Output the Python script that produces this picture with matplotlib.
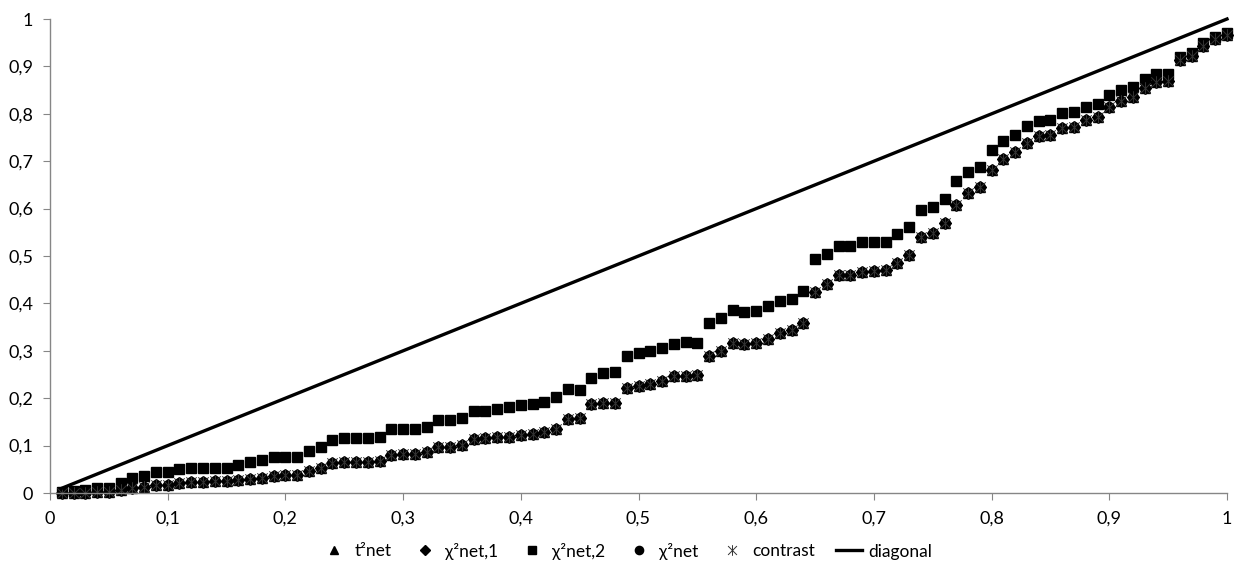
import matplotlib
matplotlib.use('Agg')
import matplotlib.pyplot as plt
from matplotlib.path import Path
import numpy as np

plt.rcParams['font.family'] = ['Lato', 'DejaVu Sans']

# probabilidade nominal (eixo x), 0.01 .. 1.00
x = np.round(np.arange(1, 101) / 100, 2)

# chi2net,2 (quadrados)
chi2net_2 = [0.002, 0.004, 0.006, 0.010, 0.010, 0.022, 0.031, 0.035, 0.045, 0.045,
             0.051, 0.052, 0.052, 0.053, 0.053, 0.060, 0.065, 0.070, 0.077, 0.075,
             0.077, 0.089, 0.096, 0.112, 0.115, 0.117, 0.117, 0.119, 0.134, 0.134,
             0.136, 0.140, 0.153, 0.154, 0.158, 0.173, 0.174, 0.177, 0.181, 0.185,
             0.188, 0.191, 0.202, 0.219, 0.217, 0.242, 0.253, 0.256, 0.289, 0.296,
             0.300, 0.305, 0.314, 0.318, 0.317, 0.359, 0.370, 0.386, 0.382, 0.385,
             0.395, 0.406, 0.409, 0.426, 0.494, 0.504, 0.521, 0.521, 0.530, 0.530,
             0.530, 0.546, 0.561, 0.596, 0.604, 0.620, 0.659, 0.678, 0.688, 0.724,
             0.743, 0.755, 0.774, 0.785, 0.787, 0.802, 0.804, 0.815, 0.821, 0.840,
             0.850, 0.857, 0.873, 0.884, 0.885, 0.920, 0.928, 0.949, 0.963, 0.970]

# chi2net (circulos) - as outras series quase coincidem com esta
chi2net = [0.000, 0.000, 0.001, 0.003, 0.003, 0.006, 0.010, 0.013, 0.017, 0.017,
           0.022, 0.024, 0.024, 0.025, 0.025, 0.027, 0.029, 0.031, 0.036, 0.038,
           0.039, 0.046, 0.052, 0.063, 0.065, 0.066, 0.066, 0.068, 0.080, 0.082,
           0.082, 0.086, 0.096, 0.098, 0.101, 0.114, 0.115, 0.118, 0.119, 0.122,
           0.125, 0.128, 0.135, 0.157, 0.158, 0.188, 0.189, 0.190, 0.221, 0.226,
           0.230, 0.237, 0.247, 0.247, 0.249, 0.289, 0.300, 0.316, 0.314, 0.317,
           0.324, 0.337, 0.344, 0.358, 0.425, 0.441, 0.460, 0.460, 0.466, 0.468,
           0.470, 0.485, 0.502, 0.541, 0.549, 0.569, 0.608, 0.632, 0.646, 0.682,
           0.704, 0.719, 0.739, 0.753, 0.755, 0.769, 0.773, 0.787, 0.794, 0.814,
           0.828, 0.836, 0.854, 0.868, 0.870, 0.914, 0.922, 0.943, 0.957, 0.966]
t2net = list(chi2net)
chi2net_1 = list(chi2net)
contrast = list(chi2net)
diagonal = list(x)

ticks = [0, 0.1, 0.2, 0.3, 0.4, 0.5, 0.6, 0.7, 0.8, 0.9, 1]
tick_labels = ['0', '0,1', '0,2', '0,3', '0,4', '0,5', '0,6', '0,7', '0,8', '0,9', '1']

# marcador "estrela" do Excel: X com traco vertical
star = Path([(-1, -1), (1, 1), (-1, 1), (1, -1), (0, -1.2), (0, 1.2)],
            [Path.MOVETO, Path.LINETO, Path.MOVETO, Path.LINETO, Path.MOVETO, Path.LINETO])

fig = plt.figure(figsize=(12.54, 5.76), dpi=100)
ax = fig.add_axes([50 / 1254, 1 - 493 / 576, 1177 / 1254, 474 / 576])

ax.plot(x, t2net, linestyle='none', marker='^', ms=7.5, color='black', label='t²net', clip_on=False)
ax.plot(x, chi2net_1, linestyle='none', marker='D', ms=6.5, color='black', label='χ²net,1', clip_on=False)
ax.plot(x, chi2net_2, linestyle='none', marker='s', ms=7.6, color='black', label='χ²net,2', clip_on=False)
ax.plot(x, chi2net, linestyle='none', marker='o', ms=7, color='black', label='χ²net', clip_on=False)
ax.plot(x, contrast, linestyle='none', marker=star, ms=9, mew=0.7, color='#333333',
        label='contrast', clip_on=False)
ax.plot(x, diagonal, color='black', lw=2.4, label='diagonal', clip_on=False)

ax.set_xlim(0, 1)
ax.set_ylim(0, 1)
ax.set_xticks(ticks)
ax.set_xticklabels(tick_labels)
ax.set_yticks(ticks)
ax.set_yticklabels(tick_labels)

for s in ['top', 'right']:
    ax.spines[s].set_visible(False)
for s in ['left', 'bottom']:
    ax.spines[s].set_color('#868686')
    ax.spines[s].set_linewidth(1)
ax.tick_params(axis='both', direction='out', length=5, color='#868686', labelsize=13,
               labelcolor='black')
ax.tick_params(axis='x', pad=8)
ax.tick_params(axis='y', pad=7)

fig.legend(loc='center', bbox_to_anchor=(0.5, 1 - 551 / 576), ncol=6, frameon=False,
           fontsize=12.5, handlelength=1.5, handletextpad=0.4, columnspacing=1.2,
           markerscale=0.85)

plt.savefig('out.png', dpi=100)
